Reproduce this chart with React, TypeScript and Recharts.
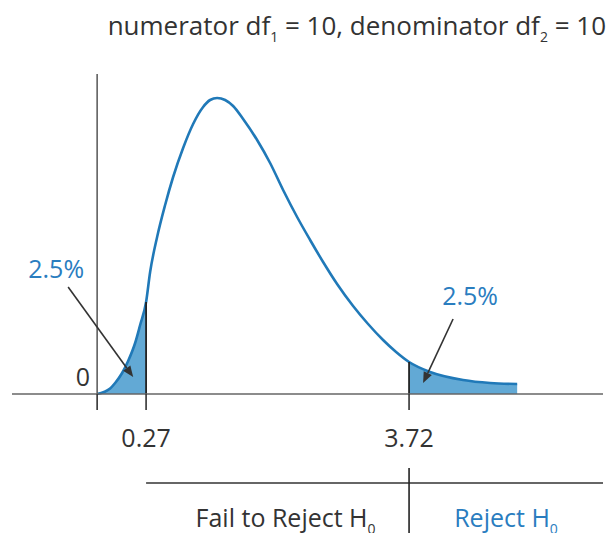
import React from 'react';
import { ComposedChart, Line, Area, XAxis, YAxis, ReferenceLine } from 'recharts';

// F-distribution (df1 = 10, df2 = 10)
const fValues = [0, 0.0413, 0.0654, 0.1042, 0.1413, 0.1886, 0.2247, 0.27, 0.3021, 0.3601, 0.43, 0.5033, 0.5996, 0.7007, 0.8063, 0.8828, 0.9612, 1.0532, 1.1477, 1.269, 1.4447, 1.6137, 1.7882, 1.9818, 2.1668, 2.3564, 2.5656, 2.8112, 3.0473, 3.289, 3.5029, 3.72, 4.08, 4.665, 5.16, 5.67];
const density = [0, 0.01375, 0.0275, 0.0525, 0.0825, 0.1275, 0.1725, 0.23, 0.305, 0.3925, 0.4725, 0.5425, 0.615, 0.675, 0.7175, 0.735, 0.74, 0.735, 0.72, 0.6875, 0.635, 0.5775, 0.51, 0.4425, 0.385, 0.33, 0.275, 0.22, 0.175, 0.135, 0.105, 0.08, 0.055, 0.035, 0.0275, 0.025];
const criticalValues = [0.27, 3.72];
const tailLabels = ['2.5%', '2.5%'];
const regionLabels = ['Fail to Reject H', 'Reject H'];
const titleParts = ['numerator df', '1', ' = 10, denominator df', '2', ' = 10'];

const FONT = '"Open Sans", sans-serif';
const FS = 25;
const SUB = 14;
const DARK = '#333333';
const BLUE = '#2a7dbf';
const CURVE = '#2079b8';
const FILL = '#62a9d5';

// schematic axis: positions drawn on a power scale of F
const AXIS_EXP = 0.706;
const toPos = (f: number) => Math.pow(f, AXIS_EXP);
const [lowCrit, highCrit] = criticalValues;
const densityAt = (f: number) => density[fValues.indexOf(f)];

const data = fValues.map((f, i) => ({
  pos: toPos(f),
  f,
  y: density[i],
  left: f <= lowCrit ? density[i] : null,
  right: f >= highCrit ? density[i] : null,
}));

const X_DOMAIN: [number, number] = [-0.69, 4.1];

const makeArrow = (label: string, dx: number, dy: number) => (props: any) => {
  const { x1, y1, x2, y2 } = props;
  const ang = Math.atan2(y2 - y1, x2 - x1);
  const len = 11;
  const w = 4.5;
  const bx = x2 - len * Math.cos(ang);
  const by = y2 - len * Math.sin(ang);
  const px = -Math.sin(ang) * w;
  const py = Math.cos(ang) * w;
  return (
    <g>
      <line x1={x1} y1={y1} x2={bx} y2={by} stroke="#333" strokeWidth={1.6} />
      <polygon points={`${x2},${y2} ${bx + px},${by + py} ${bx - px},${by - py}`} fill="#333" />
      <text x={x1 + dx} y={y1 + dy} textAnchor="middle" fontFamily={FONT} fontSize={FS} fill={BLUE}>
        {label}
      </text>
    </g>
  );
};

const YAxisLine = (props: any) => {
  const { x1, y1, x2, y2 } = props;
  return (
    <g>
      <line x1={x1} y1={y1} x2={x2} y2={y2} stroke="#555" strokeWidth={1.5} />
      <text x={x2 - 7} y={y2 - 8} textAnchor="end" fontFamily={FONT} fontSize={FS} fill={DARK}>0</text>
    </g>
  );
};

const DecisionLine = (props: any) => {
  const { x1, y1, x2 } = props;
  const xs = (toPos(highCrit) - X_DOMAIN[0]) / (X_DOMAIN[1] - X_DOMAIN[0]);
  const xStart = (toPos(lowCrit) - X_DOMAIN[0]) / (X_DOMAIN[1] - X_DOMAIN[0]);
  const span = (x2 - x1) / (1 - xStart);
  const left0 = x1 - xStart * span;
  const xMid = left0 + xs * span;
  const ty = y1 + 44;
  return (
    <g>
      <line x1={x1} y1={y1} x2={x2} y2={y1} stroke="#333" strokeWidth={1.6} />
      <text x={(x1 + xMid) / 2 + 8} y={ty} textAnchor="middle" fontFamily={FONT} fontSize={FS} fill={DARK}>
        {regionLabels[0]}
        <tspan fontSize={SUB} dy={7}>0</tspan>
      </text>
      <text x={(xMid + x2) / 2} y={ty} textAnchor="middle" fontFamily={FONT} fontSize={FS} fill={BLUE}>
        {regionLabels[1]}
        <tspan fontSize={SUB} dy={7}>0</tspan>
      </text>
    </g>
  );
};

export default function App() {
  return (
    <div style={{ position: 'absolute', left: 0, top: 0, width: 611, height: 533, background: '#fff' }}>
      <svg width={611} height={60} style={{ position: 'absolute', left: 0, top: 0 }}>
        <text x={606} y={35} textAnchor="end" fontFamily={FONT} fontSize={26} fill={DARK}>
          {titleParts[0]}
          <tspan fontSize={SUB} dy={7}>{titleParts[1]}</tspan>
          <tspan dy={-7}>{titleParts[2]}</tspan>
          <tspan fontSize={SUB} dy={7}>{titleParts[3]}</tspan>
          <tspan dy={-7}>{titleParts[4]}</tspan>
        </text>
      </svg>
      <div style={{ position: 'absolute', left: 0, top: 0 }}>
        <ComposedChart width={611} height={533} data={data} margin={{ top: 74, right: 8, bottom: 109, left: 12 }}>
          <XAxis
            type="number"
            dataKey="pos"
            domain={X_DOMAIN}
            allowDataOverflow
            ticks={[0, toPos(lowCrit), toPos(highCrit)]}
            tickFormatter={(v: number) => {
              if (v === 0) return '';
              const idx = [toPos(lowCrit), toPos(highCrit)].indexOf(v);
              return idx >= 0 ? criticalValues[idx].toFixed(2) : '';
            }}
            tickSize={16}
            tickMargin={19}
            height={30}
            axisLine={{ stroke: '#666', strokeWidth: 1.6 }}
            tickLine={{ stroke: '#333', strokeWidth: 1.6 }}
            tick={{ fontSize: FS, fill: DARK, fontFamily: FONT }}
          />
          <YAxis hide domain={[0, 0.8]} width={0} />
          <Area type="monotone" dataKey="left" stroke="none" fill={FILL} fillOpacity={1} isAnimationActive={false} connectNulls={false} />
          <Area type="monotone" dataKey="right" stroke="none" fill={FILL} fillOpacity={1} isAnimationActive={false} connectNulls={false} />
          <Line type="monotone" dataKey="y" stroke={CURVE} strokeWidth={2.6} dot={false} isAnimationActive={false} />
          <ReferenceLine
            segment={[{ x: 0, y: 0.8 }, { x: 0, y: 0 }]}
            shape={YAxisLine}
            ifOverflow="visible"
          />
          <ReferenceLine
            segment={[{ x: toPos(lowCrit), y: 0 }, { x: toPos(lowCrit), y: densityAt(lowCrit) }]}
            stroke="#222"
            strokeWidth={1.8}
          />
          <ReferenceLine
            segment={[{ x: toPos(highCrit), y: 0 }, { x: toPos(highCrit), y: densityAt(highCrit) }]}
            stroke="#222"
            strokeWidth={1.8}
          />
          <ReferenceLine
            segment={[{ x: -0.235, y: 0.2675 }, { x: 0.292, y: 0.0425 }]}
            shape={makeArrow(tailLabels[0], -12, -9)}
            ifOverflow="visible"
          />
          <ReferenceLine
            segment={[{ x: 2.885, y: 0.1875 }, { x: 2.642, y: 0.0275 }]}
            shape={makeArrow(tailLabels[1], 17, -14)}
            ifOverflow="visible"
          />
          <ReferenceLine
            segment={[{ x: toPos(lowCrit), y: -0.2225 }, { x: X_DOMAIN[1], y: -0.2225 }]}
            shape={DecisionLine}
            ifOverflow="visible"
          />
          <ReferenceLine
            segment={[{ x: toPos(highCrit), y: -0.185 }, { x: toPos(highCrit), y: -0.36 }]}
            stroke="#222"
            strokeWidth={1.6}
            ifOverflow="visible"
          />
        </ComposedChart>
      </div>
    </div>
  );
}
